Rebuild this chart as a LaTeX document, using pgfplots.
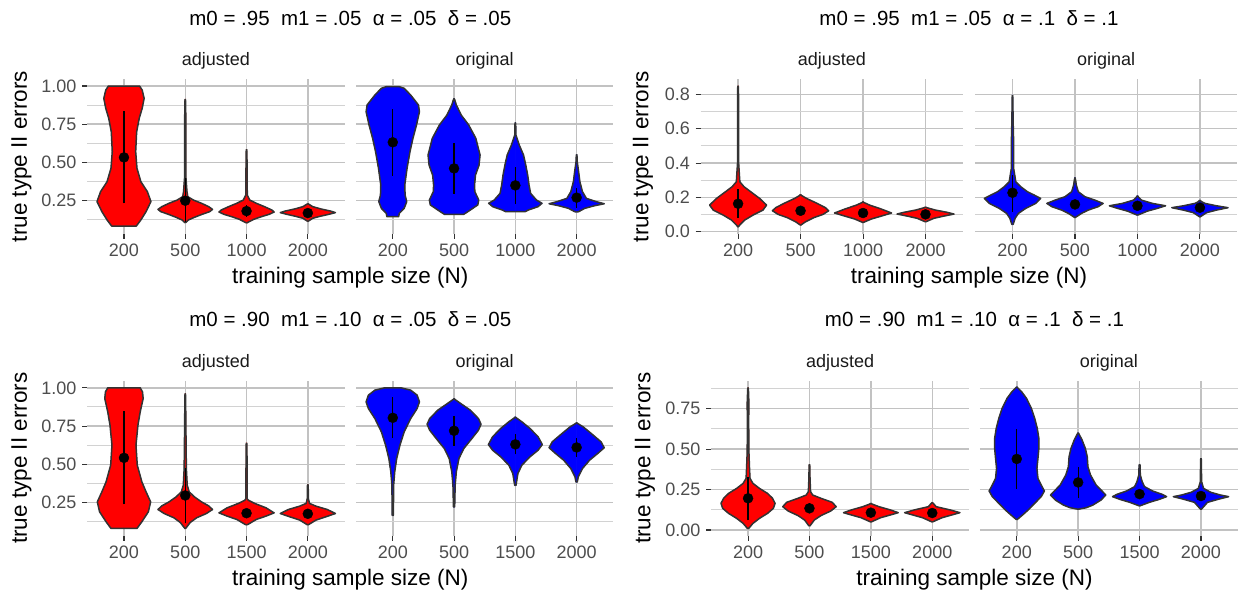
\documentclass[border=0pt]{standalone}
\usepackage{fontspec}
\setmainfont{Liberation Sans}
\usepackage{pgfplots}
\usepackage{pgfplotstable}
\pgfplotsset{compat=1.18}
\definecolor{vred}{HTML}{FF0000}
\definecolor{vblue}{HTML}{0000FF}
\definecolor{outl}{HTML}{333333}
\definecolor{gmaj}{HTML}{C2C2C2}
\definecolor{gmin}{HTML}{D2D2D2}
\definecolor{tickc}{HTML}{4D4D4D}
\definecolor{stripc}{HTML}{1A1A1A}

% ---------- violin outlines: y, half width (category units) ----------
\pgfplotstableread{
y w
1.000 0
1.000 0.254
0.974 0.297
0.919 0.329
0.854 0.297
0.789 0.249
0.701 0.207
0.571 0.191
0.462 0.212
0.374 0.276
0.309 0.382
0.244 0.440
0.178 0.360
0.124 0.276
0.084 0.201
0.084 0
}\vAaOne
\pgfplotstableread{
y w
0.915 0
0.900 0.006
0.789 0.009
0.571 0.009
0.396 0.012
0.309 0.028
0.276 0.042
0.254 0.133
0.233 0.265
0.211 0.382
0.193 0.445
0.178 0.398
0.161 0.276
0.141 0.148
0.124 0.053
0.108 0.011
0.106 0
}\vAaTwo
\pgfplotstableread{
y w
0.586 0
0.570 0.006
0.462 0.009
0.287 0.012
0.254 0.053
0.233 0.159
0.211 0.292
0.189 0.413
0.176 0.450
0.161 0.371
0.145 0.239
0.128 0.117
0.106 0.011
0.104 0
}\vAaThree
\pgfplotstableread{
y w
0.230 0
0.228 0.011
0.211 0.080
0.196 0.212
0.182 0.371
0.172 0.450
0.161 0.345
0.148 0.201
0.135 0.080
0.117 0.011
0.115 0
}\vAaFour
\pgfplotstableread{
y w
0.996 0
0.996 0.106
0.985 0.186
0.941 0.292
0.876 0.419
0.832 0.435
0.745 0.387
0.658 0.329
0.571 0.281
0.462 0.233
0.353 0.196
0.287 0.201
0.244 0.228
0.200 0.186
0.167 0.106
0.145 0.095
0.145 0
}\vAoOne
\pgfplotstableread{
y w
0.919 0
0.910 0.011
0.876 0.037
0.810 0.117
0.745 0.239
0.658 0.355
0.549 0.424
0.483 0.408
0.418 0.350
0.353 0.334
0.309 0.339
0.254 0.403
0.222 0.387
0.182 0.239
0.161 0.159
0.161 0
}\vAoTwo
\pgfplotstableread{
y w
0.762 0
0.750 0.006
0.680 0.009
0.614 0.064
0.549 0.133
0.483 0.170
0.418 0.201
0.353 0.223
0.298 0.249
0.254 0.345
0.233 0.435
0.211 0.371
0.189 0.212
0.178 0.159
0.178 0
}\vAoThree
\pgfplotstableread{
y w
0.553 0
0.540 0.006
0.505 0.010
0.440 0.032
0.374 0.053
0.309 0.095
0.265 0.159
0.244 0.318
0.230 0.450
0.217 0.292
0.200 0.133
0.178 0.032
0.176 0
}\vAoFour
\pgfplotstableread{
y w
0.850 0
0.840 0.006
0.600 0.009
0.400 0.009
0.291 0.028
0.262 0.095
0.233 0.201
0.194 0.345
0.155 0.456
0.126 0.398
0.097 0.239
0.068 0.106
0.039 0.027
0.029 0.005
0.028 0
}\vBaOne
\pgfplotstableread{
y w
0.217 0
0.210 0.020
0.194 0.095
0.165 0.265
0.140 0.398
0.122 0.450
0.101 0.360
0.082 0.212
0.058 0.080
0.039 0.005
0.038 0
}\vBaTwo
\pgfplotstableread{
y w
0.175 0
0.170 0.015
0.155 0.106
0.132 0.292
0.109 0.456
0.091 0.292
0.074 0.133
0.054 0.005
0.053 0
}\vBaThree
\pgfplotstableread{
y w
0.144 0
0.140 0.020
0.126 0.159
0.113 0.345
0.103 0.456
0.091 0.292
0.078 0.133
0.058 0.005
0.057 0
}\vBaFour
\pgfplotstableread{
y w
0.796 0
0.780 0.006
0.660 0.009
0.524 0.018
0.369 0.018
0.291 0.053
0.262 0.133
0.233 0.239
0.214 0.345
0.194 0.450
0.165 0.371
0.136 0.212
0.107 0.095
0.078 0.042
0.043 0.011
0.042 0
}\vBoOne
\pgfplotstableread{
y w
0.316 0
0.300 0.010
0.272 0.021
0.233 0.053
0.204 0.159
0.184 0.318
0.165 0.450
0.146 0.371
0.126 0.212
0.107 0.106
0.083 0.005
0.082 0
}\vBoTwo
\pgfplotstableread{
y w
0.210 0
0.200 0.020
0.184 0.064
0.165 0.239
0.151 0.450
0.136 0.318
0.120 0.159
0.097 0.005
0.096 0
}\vBoThree
\pgfplotstableread{
y w
0.184 0
0.175 0.025
0.165 0.080
0.151 0.265
0.140 0.450
0.126 0.265
0.111 0.106
0.087 0.005
0.086 0
}\vBoFour
\pgfplotstableread{
y w
1.000 0
1.000 0.265
0.974 0.302
0.930 0.313
0.843 0.265
0.756 0.228
0.625 0.196
0.494 0.217
0.385 0.292
0.320 0.360
0.254 0.435
0.189 0.398
0.124 0.292
0.080 0.212
0.080 0
}\vCaOne
\pgfplotstableread{
y w
0.963 0
0.950 0.006
0.799 0.009
0.472 0.018
0.363 0.032
0.320 0.064
0.287 0.148
0.254 0.265
0.228 0.382
0.204 0.445
0.178 0.345
0.150 0.186
0.119 0.080
0.091 0.027
0.080 0.005
0.079 0
}\vCaTwo
\pgfplotstableread{
y w
0.640 0
0.630 0.006
0.472 0.009
0.276 0.009
0.265 0.028
0.244 0.133
0.215 0.318
0.182 0.450
0.161 0.318
0.139 0.159
0.106 0.021
0.104 0
}\vCaThree
\pgfplotstableread{
y w
0.368 0
0.360 0.006
0.276 0.009
0.244 0.027
0.226 0.133
0.204 0.318
0.178 0.450
0.156 0.292
0.135 0.133
0.106 0.016
0.104 0
}\vCaFour
\pgfplotstableread{
y w
1.000 0
1.000 0.133
0.985 0.292
0.952 0.398
0.908 0.435
0.865 0.398
0.799 0.292
0.712 0.186
0.625 0.117
0.538 0.064
0.451 0.032
0.363 0.014
0.167 0.010
0.165 0
}\vCoOne
\pgfplotstableread{
y w
0.930 0
0.925 0.011
0.898 0.106
0.854 0.265
0.799 0.398
0.762 0.440
0.723 0.398
0.669 0.292
0.603 0.159
0.538 0.080
0.451 0.037
0.363 0.018
0.222 0.010
0.220 0
}\vCoTwo
\pgfplotstableread{
y w
0.810 0
0.805 0.011
0.778 0.106
0.734 0.239
0.680 0.371
0.629 0.440
0.592 0.371
0.549 0.239
0.494 0.106
0.440 0.042
0.363 0.011
0.361 0
}\vCoThree
\pgfplotstableread{
y w
0.773 0
0.768 0.011
0.745 0.106
0.701 0.239
0.647 0.398
0.608 0.450
0.571 0.345
0.527 0.212
0.472 0.095
0.418 0.027
0.385 0.011
0.383 0
}\vCoFour
\pgfplotstableread{
y w
0.880 0
0.870 0.006
0.772 0.015
0.690 0.010
0.484 0.014
0.381 0.024
0.319 0.032
0.288 0.080
0.257 0.186
0.226 0.318
0.196 0.398
0.165 0.440
0.134 0.413
0.103 0.318
0.072 0.186
0.041 0.080
0.010 0.011
0.009 0
}\vDaOne
\pgfplotstableread{
y w
0.406 0
0.395 0.006
0.319 0.009
0.237 0.018
0.216 0.053
0.196 0.186
0.171 0.371
0.144 0.435
0.117 0.345
0.089 0.186
0.062 0.080
0.027 0.011
0.025 0
}\vDaTwo
\pgfplotstableread{
y w
0.165 0
0.160 0.020
0.144 0.133
0.124 0.318
0.107 0.445
0.093 0.318
0.076 0.159
0.051 0.011
0.050 0
}\vDaThree
\pgfplotstableread{
y w
0.171 0
0.165 0.015
0.144 0.064
0.124 0.292
0.107 0.450
0.093 0.318
0.076 0.159
0.051 0.011
0.050 0
}\vDaFour
\pgfplotstableread{
y w
0.885 0
0.880 0.011
0.854 0.080
0.813 0.159
0.751 0.239
0.690 0.292
0.628 0.334
0.566 0.360
0.504 0.360
0.443 0.345
0.381 0.329
0.319 0.345
0.278 0.398
0.241 0.450
0.206 0.398
0.165 0.292
0.124 0.186
0.093 0.095
0.066 0.011
0.064 0
}\vDoOne
\pgfplotstableread{
y w
0.601 0
0.595 0.011
0.556 0.064
0.504 0.117
0.453 0.148
0.391 0.159
0.340 0.201
0.278 0.292
0.237 0.398
0.216 0.450
0.185 0.371
0.154 0.239
0.138 0.133
0.130 0.027
0.129 0
}\vDoTwo
\pgfplotstableread{
y w
0.406 0
0.400 0.008
0.340 0.012
0.299 0.042
0.268 0.080
0.241 0.212
0.220 0.371
0.206 0.440
0.189 0.318
0.171 0.159
0.150 0.011
0.148 0
}\vDoThree
\pgfplotstableread{
y w
0.443 0
0.435 0.006
0.299 0.010
0.257 0.042
0.233 0.159
0.216 0.318
0.206 0.450
0.191 0.292
0.171 0.106
0.130 0.011
0.128 0
}\vDoFour

% ---------- drawing helpers ----------
\newcommand\violin[3]{%
  \addplot[fill=#2, draw=#2, line width=0.5pt, line join=round, forget plot] table[x expr=#1+\thisrow{w}, y=y]{#3} -- cycle;
  \addplot[fill=#2, draw=#2, line width=0.5pt, line join=round, forget plot] table[x expr=#1-\thisrow{w}, y=y]{#3} -- cycle;
  \addplot[draw=outl, line width=1.5pt, line join=round, forget plot] table[x expr=#1+\thisrow{w}, y=y]{#3};
  \addplot[draw=outl, line width=1.5pt, line join=round, forget plot] table[x expr=#1-\thisrow{w}, y=y]{#3};
}
\newcommand\summ[4]{%
  \addplot[black, line width=1.2pt, forget plot] coordinates {(#1,#2) (#1,#3)};
  \addplot[only marks, mark=*, mark size=5pt, black, forget plot] coordinates {(#1,#4)};
}

\pgfplotsset{
  vbase/.style={
    scale only axis, height=154.4pt,
    xmin=0.4, xmax=4.6, xtick={1,2,3,4},
    axis line style={draw=none},
    tick align=outside, major tick length=5pt, minor tick length=0pt,
    tick style={color=outl, line width=1.1pt},
    xtick pos=lower, ytick pos=left,
    xmajorgrids=true, ymajorgrids=true, yminorgrids=true,
    major grid style={color=gmaj, line width=1.5pt},
    minor grid style={color=gmin, line width=1pt},
    tick label style={font=\fontsize{18}{21}\selectfont, text=tickc},
    xticklabel style={anchor=base, inner sep=0pt, yshift=-18pt},
    yticklabel style={anchor=east, inner sep=0pt, xshift=-5.5pt},
  },
  yA/.style={ymin=0.034, ymax=1.044, ytick={0.25,0.5,0.75,1}, minor ytick={0.125,0.375,0.625,0.875}, yticklabels={0.25,0.50,0.75,1.00}},
  yB/.style={ymin=-0.0116, ymax=0.888, ytick={0,0.2,0.4,0.6,0.8}, minor ytick={0.1,0.3,0.5,0.7}, yticklabels={0.0,0.2,0.4,0.6,0.8}},
  yD/.style={ymin=-0.034, ymax=0.920, ytick={0,0.25,0.5,0.75}, minor ytick={0.125,0.375,0.625,0.875}, yticklabels={0.00,0.25,0.50,0.75}},
  rfacet/.style={yticklabels={}, ytick style={draw=none}},
}

\begin{document}
\begin{tikzpicture}
\path[use as bounding box] (0,0) rectangle (1238pt,-597pt);

% ================= top left =================
\begin{axis}[vbase, yA, width=257.4pt, at={(87.2pt,-233.7pt)}, anchor=south west, xticklabels={200,500,1000,2000}]
\violin{1}{vred}{\vAaOne}\summ{1}{0.233}{0.839}{0.533}
\violin{2}{vred}{\vAaTwo}\summ{2}{0.113}{0.396}{0.250}
\violin{3}{vred}{\vAaThree}\summ{3}{0.145}{0.222}{0.182}
\violin{4}{vred}{\vAaFour}\summ{4}{0.150}{0.190}{0.169}
\end{axis}
\begin{axis}[vbase, yA, rfacet, width=257.4pt, at={(356pt,-233.7pt)}, anchor=south west, xticklabels={200,500,1000,2000}]
\violin{1}{vblue}{\vAoOne}\summ{1}{0.411}{0.850}{0.632}
\violin{2}{vblue}{\vAoTwo}\summ{2}{0.294}{0.625}{0.461}
\violin{3}{vblue}{\vAoThree}\summ{3}{0.228}{0.468}{0.350}
\violin{4}{vblue}{\vAoFour}\summ{4}{0.204}{0.331}{0.270}
\end{axis}

% ================= top right =================
\begin{axis}[vbase, yB, width=262.4pt, at={(700.6pt,-233.7pt)}, anchor=south west, xticklabels={200,500,1000,2000}]
\violin{1}{vred}{\vBaOne}\summ{1}{0.080}{0.250}{0.163}
\violin{2}{vred}{\vBaTwo}\summ{2}{0.100}{0.150}{0.122}
\violin{3}{vred}{\vBaThree}\summ{3}{0.095}{0.125}{0.109}
\violin{4}{vred}{\vBaFour}\summ{4}{0.090}{0.115}{0.101}
\end{axis}
\begin{axis}[vbase, yB, rfacet, width=262.4pt, at={(975pt,-233.7pt)}, anchor=south west, xticklabels={200,500,1000,2000}]
\violin{1}{vblue}{\vBoOne}\summ{1}{0.117}{0.330}{0.227}
\violin{2}{vblue}{\vBoTwo}\summ{2}{0.140}{0.180}{0.159}
\violin{3}{vblue}{\vBoThree}\summ{3}{0.135}{0.165}{0.151}
\violin{4}{vblue}{\vBoFour}\summ{4}{0.125}{0.155}{0.140}
\end{axis}

% ================= bottom left =================
\begin{axis}[vbase, yA, width=257.4pt, at={(87.2pt,-535.5pt)}, anchor=south west, xticklabels={200,500,1500,2000}]
\violin{1}{vred}{\vCaOne}\summ{1}{0.237}{0.847}{0.542}
\violin{2}{vred}{\vCaTwo}\summ{2}{0.113}{0.477}{0.296}
\violin{3}{vred}{\vCaThree}\summ{3}{0.160}{0.210}{0.180}
\violin{4}{vred}{\vCaFour}\summ{4}{0.155}{0.200}{0.176}
\end{axis}
\begin{axis}[vbase, yA, rfacet, width=257.4pt, at={(356pt,-535.5pt)}, anchor=south west, xticklabels={200,500,1500,2000}]
\violin{1}{vblue}{\vCoOne}\summ{1}{0.673}{0.937}{0.804}
\violin{2}{vblue}{\vCoTwo}\summ{2}{0.621}{0.817}{0.719}
\violin{3}{vblue}{\vCoThree}\summ{3}{0.564}{0.695}{0.630}
\violin{4}{vblue}{\vCoFour}\summ{4}{0.549}{0.669}{0.610}
\end{axis}

% ================= bottom right =================
\begin{axis}[vbase, yD, width=257.9pt, at={(711.2pt,-535.5pt)}, anchor=south west, xticklabels={200,500,1500,2000}]
\violin{1}{vred}{\vDaOne}\summ{1}{0.060}{0.330}{0.196}
\violin{2}{vred}{\vDaTwo}\summ{2}{0.103}{0.165}{0.134}
\violin{3}{vred}{\vDaThree}\summ{3}{0.090}{0.125}{0.107}
\violin{4}{vred}{\vDaFour}\summ{4}{0.090}{0.120}{0.105}
\end{axis}
\begin{axis}[vbase, yD, rfacet, width=257.9pt, at={(979.9pt,-535.5pt)}, anchor=south west, xticklabels={200,500,1500,2000}]
\violin{1}{vblue}{\vDoOne}\summ{1}{0.253}{0.624}{0.439}
\violin{2}{vblue}{\vDoTwo}\summ{2}{0.196}{0.391}{0.294}
\violin{3}{vblue}{\vDoThree}\summ{3}{0.200}{0.245}{0.222}
\violin{4}{vblue}{\vDoFour}\summ{4}{0.195}{0.225}{0.210}
\end{axis}

% ================= texts =================
\begin{scope}[every node/.style={inner sep=0pt}]
\node[anchor=base, font=\fontsize{20.5}{24}\selectfont] at (350.3pt,-25.3pt) {m0 = .95\ \ m1 = .05\ \ α = .05\ \ δ = .05};
\node[anchor=base, font=\fontsize{20.5}{24}\selectfont] at (969pt,-25.3pt) {m0 = .95\ \ m1 = .05\ \ α = .1\ \ δ = .1};
\node[anchor=base, font=\fontsize{20.5}{24}\selectfont] at (350.3pt,-326.7pt) {m0 = .90\ \ m1 = .10\ \ α = .05\ \ δ = .05};
\node[anchor=base, font=\fontsize{20.5}{24}\selectfont] at (974.5pt,-326.7pt) {m0 = .90\ \ m1 = .10\ \ α = .1\ \ δ = .1};

\node[anchor=base, font=\fontsize{18}{21}\selectfont, text=stripc] at (215.9pt,-65pt) {adjusted};
\node[anchor=base, font=\fontsize{18}{21}\selectfont, text=stripc] at (484.7pt,-65pt) {original};
\node[anchor=base, font=\fontsize{18}{21}\selectfont, text=stripc] at (831.8pt,-65pt) {adjusted};
\node[anchor=base, font=\fontsize{18}{21}\selectfont, text=stripc] at (1106.2pt,-65pt) {original};
\node[anchor=base, font=\fontsize{18}{21}\selectfont, text=stripc] at (215.9pt,-367.7pt) {adjusted};
\node[anchor=base, font=\fontsize{18}{21}\selectfont, text=stripc] at (484.7pt,-367.7pt) {original};
\node[anchor=base, font=\fontsize{18}{21}\selectfont, text=stripc] at (840.2pt,-367.7pt) {adjusted};
\node[anchor=base, font=\fontsize{18}{21}\selectfont, text=stripc] at (1108.9pt,-367.7pt) {original};

\node[anchor=base, font=\fontsize{22.5}{26}\selectfont] at (350.3pt,-283.3pt) {training sample size (N)};
\node[anchor=base, font=\fontsize{22.5}{26}\selectfont] at (969pt,-283.3pt) {training sample size (N)};
\node[anchor=base, font=\fontsize{22.5}{26}\selectfont] at (350.3pt,-585.7pt) {training sample size (N)};
\node[anchor=base, font=\fontsize{22.5}{26}\selectfont] at (974.5pt,-585.7pt) {training sample size (N)};

\node[rotate=90, font=\fontsize{22.5}{26}\selectfont] at (21.5pt,-156.5pt) {true type II errors};
\node[rotate=90, font=\fontsize{22.5}{26}\selectfont] at (643pt,-156.5pt) {true type II errors};
\node[rotate=90, font=\fontsize{22.5}{26}\selectfont] at (21.5pt,-458.3pt) {true type II errors};
\node[rotate=90, font=\fontsize{22.5}{26}\selectfont] at (645pt,-458.3pt) {true type II errors};
\end{scope}
\end{tikzpicture}
\end{document}
